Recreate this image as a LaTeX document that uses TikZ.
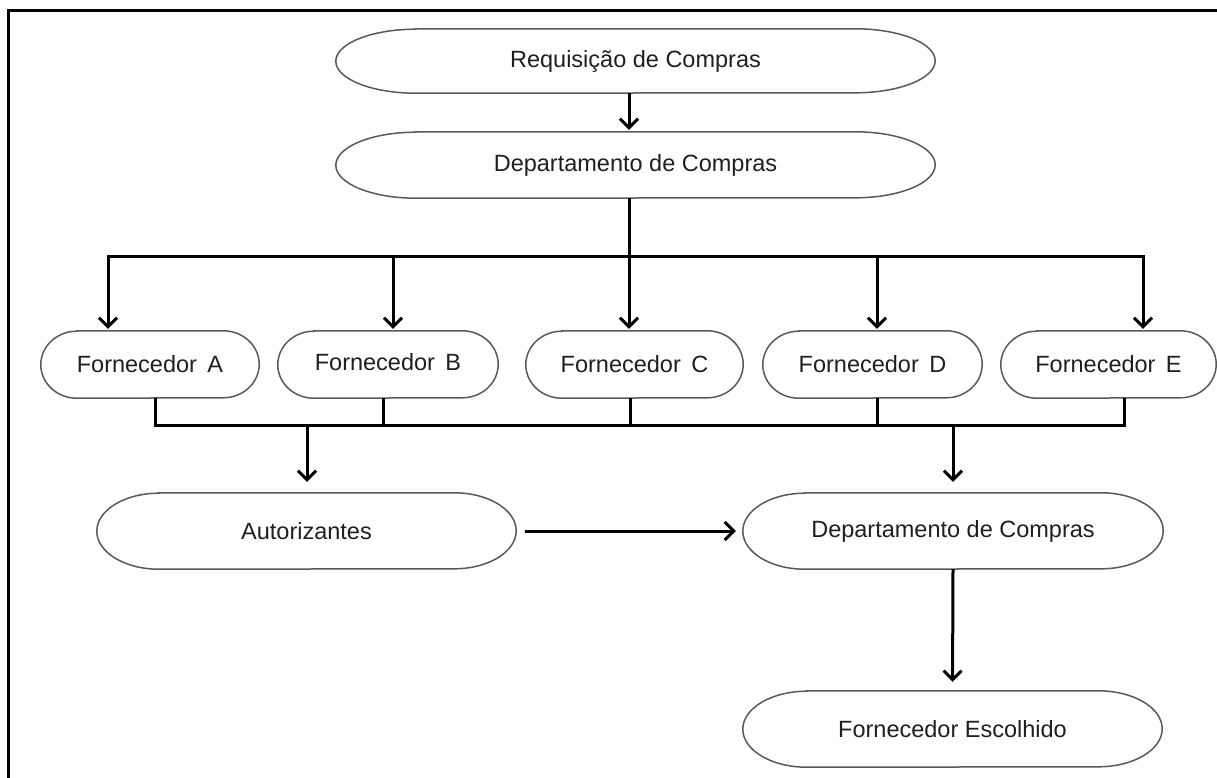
\documentclass[tikz,border=0pt]{standalone}
\usepackage{fontspec}
\setmainfont{Liberation Sans}
\usetikzlibrary{arrows.meta}

% capsule: name, centre x, centre y, width, height, end radius, text
\newcommand\capsule[7]{%
  \node[capsuletext, minimum width=#4pt, minimum height=#5pt] (#1) at (#2,#3) {#7};
  \draw[capsuleline]
    ([xshift=#6pt]#1.north west) -- ([xshift=-#6pt]#1.north east)
    arc[start angle=90, end angle=-90, x radius=#6pt, y radius=#5pt/2]
    -- ([xshift=#6pt]#1.south west)
    arc[start angle=270, end angle=90, x radius=#6pt, y radius=#5pt/2]
    -- cycle;
}

\tikzset{
  capsuletext/.style={inner sep=0pt, font=\fontsize{23.5}{28}\selectfont, text=black!88},
  capsuleline/.style={draw=black!65, line width=1.5pt},
  wire/.style={line width=3pt, draw=black},
  busline/.style={wire, line cap=rect},
  arr/.style={wire, -{Straight Barb[length=9pt, width=18pt]}},
  frameline/.style={line width=3pt, draw=black}
}

\begin{document}
\begin{tikzpicture}[x=1pt, y=1pt]
  \useasboundingbox (0,0) rectangle (1217,-778);

  % frame
  \draw[frameline] (1217,-11) -- (8,-11) -- (8,-778);

  % top of the flow
  \capsule{req}{635.5}{-61}{599}{64}{80}{Requisição de Compras}
  \capsule{dpa}{635.5}{-165}{599}{66}{80}{Departamento de Compras}

  % suppliers
  \capsule{fa}{150}{-364.5}{218}{67}{36}{Fornecedor\, A}
  \capsule{fb}{388}{-364.5}{220}{67}{36}{\raisebox{6pt}{Fornecedor\, B}}
  \capsule{fc}{634.5}{-364.5}{217}{67}{36}{Fornecedor\, C}
  \capsule{fd}{872.5}{-364.5}{219}{67}{36}{Fornecedor\, D}
  \capsule{fe}{1108.5}{-364.5}{215}{67}{36}{Fornecedor\, E}

  % lower part
  \capsule{aut}{306.5}{-531}{419}{76}{62}{Autorizantes}
  \capsule{dpb}{953}{-531}{420}{76}{62}{Departamento de Compras}
  \capsule{esc}{952.5}{-729}{419}{76}{64}{Fornecedor Escolhido}

  % distribution bus
  \coordinate (ta) at (108,-256);
  \coordinate (tb) at (393,-256);
  \coordinate (tc) at (629,-256);
  \coordinate (td) at (877,-256);
  \coordinate (te) at (1143,-256);

  % collecting bus
  \coordinate (ba) at (155,-425);
  \coordinate (bb) at (383,-425);
  \coordinate (bc) at (630,-425);
  \coordinate (bd) at (877,-425);
  \coordinate (be) at (1124,-425);
  \coordinate (bl) at (307,-425);
  \coordinate (br) at (953,-425);

  \draw[arr, shorten >=2pt] (req.south -| tc) -- (dpa.north -| tc);
  \draw[wire] (dpa.south -| tc) -- (tc);
  \draw[busline] (ta) -- (te);
  \foreach \t/\f in {ta/fa, tb/fb, tc/fc, td/fd, te/fe}
    \draw[arr, shorten >=2pt] (\t) -- (\t |- \f.north);

  \foreach \b/\f in {ba/fa, bb/fb, bc/fc, bd/fd, be/fe}
    \draw[wire] (\f.south -| \b) -- (\b);
  \draw[busline] (ba) -- (be);

  \draw[arr, shorten >=11pt] (bl) -- (bl |- aut.north);
  \draw[arr, shorten >=11pt] (br) -- (br |- dpb.north);
  \draw[arr, shorten <=9pt, shorten >=7pt] (aut.east) -- (dpb.west);
  \draw[arr, shorten >=9pt] (dpb.south) -- (esc.north);
\end{tikzpicture}
\end{document}
